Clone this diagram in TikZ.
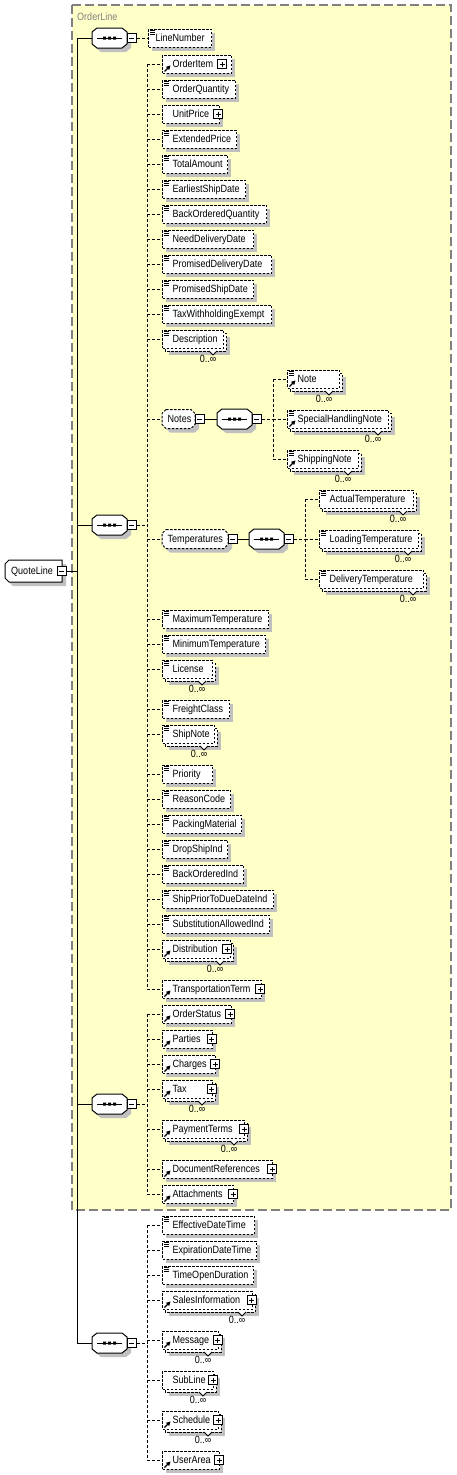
\documentclass[tikz,border=0pt]{standalone}
\usepackage{fontspec}
\setmainfont{Liberation Sans}[FakeStretch=0.86]
\definecolor{grpfill}{HTML}{FFFFC8}
\definecolor{shd}{HTML}{C0C0C0}
\definecolor{grpline}{HTML}{808080}
\newcommand\stt{\rule[-2.6pt]{0pt}{11.8pt}}
\newcommand\toff{10}
\tikzset{
  txt/.style={font=\fontsize{10.5}{11}\selectfont},
  elbox/.style={txt, draw, line width=1pt, dash pattern=on 2.5pt off 1.5pt, fill=white, inner sep=0pt, minimum height=18pt, anchor=west},
  dashbox/.style={draw, line width=1pt, dash pattern=on 2.5pt off 1.5pt, fill=white},
  conn/.style={line width=1pt, dash pattern=on 3pt off 2pt},
  solidln/.style={line width=1pt},
  ghost/.style={txt, inner sep=0pt, anchor=west},
  sq/.style={draw, solid, line width=1pt, fill=white, minimum size=9pt, inner sep=0pt},
}
% simple element
\newcommand\SEl[5]{%
  \fill[shd] (#2+4,#3-5) rectangle (#4+4,#3+13);
  \pgfmathsetmacro\elw{#4-#2}%
  \node[elbox] (#1) at (#2,#3) {\makebox[\elw pt][l]{\hspace*{\toff pt}\stt #5}};
}
% repeated element 0..inf
\newcommand\MEl[5]{%
  \fill[shd] (#2+7,#3-2) rectangle (#4+7,#3+16);
  \draw[dashbox] (#2+3,#3-6) rectangle (#4+3,#3+12);
  \draw[line width=0.8pt, fill=white] (#4-14,#3+12) -- (#4-10,#3+16) -- (#4-6,#3+12);
  \pgfmathsetmacro\elw{#4-#2}%
  \node[elbox] (#1) at (#2,#3) {\makebox[\elw pt][l]{\hspace*{\toff pt}\stt #5}};
  \node[txt, inner sep=0pt] (#1-n) at (#4-15,#3+20) {0..∞};
}
% chamfered element with children
\newcommand\CEl[5]{%
  \fill[shd] (#2+8,#3-5.5) -- (#4,#3-5.5) -- (#4+4,#3-1.5) -- (#4+4,#3+9.5) -- (#4,#3+13.5) -- (#2+8,#3+13.5) -- (#2+4,#3+9.5) -- (#2+4,#3-1.5) -- cycle;
  \draw[dashbox] (#2+4,#3-9.5) -- (#4-4,#3-9.5) -- (#4,#3-5.5) -- (#4,#3+5.5) -- (#4-4,#3+9.5) -- (#2+4,#3+9.5) -- (#2,#3+5.5) -- (#2,#3-5.5) -- cycle;
  \pgfmathsetmacro\elw{#4-#2}%
  \node[ghost, minimum height=19pt] (#1) at (#2,#3) {\makebox[\elw pt][l]{\hspace*{5.5pt}\stt #5}};
}
\newcommand\XIco[2]{\draw[line width=1pt] (#1+2,#2-7.5) -- +(5,0) (#1+2,#2-5.5) -- +(5,0) (#1+2,#2-3.5) -- +(5,0);}
\newcommand\XRef[2]{\draw[line width=1.3pt] (#1+2.5,#2+7.5) -- (#1+6,#2+4); \fill (#1+8.5,#2+1.5) -- (#1+4,#2+2.8) -- (#1+7.2,#2+6) -- cycle;}
\newcommand\XPlus[3]{\node[sq] (#1) at (#2,#3) {}; \draw[line width=1pt] (#2-2.5,#3) -- (#2+2.5,#3) (#2,#3-2.5) -- (#2,#3+2.5);}
\newcommand\XMinus[3]{\node[sq] (#1) at (#2,#3) {}; \draw[line width=1pt] (#2-2.5,#3) -- (#2+2.5,#3);}
\newcommand\XSeq[3]{%
  \fill[shd] (#2+9,#3-6) -- (#2+34,#3-6) -- (#2+39,#3-2) -- (#2+39,#3+10) -- (#2+34,#3+14) -- (#2+9,#3+14) -- (#2+4,#3+10) -- (#2+4,#3-2) -- cycle;
  \draw[solidln, fill=white] (#2+5,#3-10) -- (#2+30,#3-10) -- (#2+35,#3-6) -- (#2+35,#3+6) -- (#2+30,#3+10) -- (#2+5,#3+10) -- (#2,#3+6) -- (#2,#3-6) -- cycle;
  \draw[solidln] (#2+5,#3) -- (#2+30,#3);
  \fill (#2+11,#3-1.5) rectangle +(3,3) (#2+16,#3-1.5) rectangle +(3,3) (#2+21,#3-1.5) rectangle +(3,3);
  \node[inner sep=0pt, minimum width=35pt, minimum height=20pt, anchor=west] (#1) at (#2,#3) {};
  \XMinus{#1-m}{#2+39.5}{#3}
}
\begin{document}
\begin{tikzpicture}[x=1pt,y=-1pt]
\useasboundingbox (0,0) rectangle (456,1475);
% group
\draw[grpline, fill=grpfill, line width=1.2pt, dash pattern=on 9pt off 4pt] (72,5) rectangle (451,1210);
\node[txt, text=grpline, anchor=west, inner sep=0pt] (OrderLineLbl) at (77,17) {OrderLine};
% root
\fill[shd] (13,564) -- (66,564) -- (66,586) -- (13,586) -- (9,582) -- (9,568) -- cycle;
\draw[solidln, fill=white] (9,560) -- (62,560) -- (62,582) -- (9,582) -- (5,578) -- (5,564) -- cycle;
\node[ghost, minimum height=22pt] (QuoteLine) at (5,571) {\makebox[57pt][l]{\hspace*{6pt}\stt QuoteLine}};
\XMinus{QL-m}{61.5}{571}
% sequences
\XSeq{s1}{92}{38}
\XSeq{s2}{92}{525}
\XSeq{s3}{92}{1104}
\XSeq{s4}{92}{1343}
% seq 1
\renewcommand\toff{7}
\SEl{LineNumber}{148}{38}{211}{LineNumber}\XIco{148}{38}
\renewcommand\toff{10}
% seq 2
\SEl{OrderItem}{162}{64}{231}{OrderItem}\XRef{162}{64}\XPlus{OrderItem-p}{222}{64}
\SEl{OrderQuantity}{162}{89}{235}{OrderQuantity}\XIco{162}{89}
\SEl{UnitPrice}{162}{114}{219}{UnitPrice}\XPlus{UnitPrice-p}{218}{114}
\SEl{ExtendedPrice}{162}{139}{236}{ExtendedPrice}\XIco{162}{139}
\SEl{TotalAmount}{162}{164}{227}{TotalAmount}\XIco{162}{164}
\SEl{EarliestShipDate}{162}{189}{245}{EarliestShipDate}\XIco{162}{189}
\SEl{BackOrderedQuantity}{162}{214}{266}{BackOrderedQuantity}\XIco{162}{214}
\SEl{NeedDeliveryDate}{162}{239}{253}{NeedDeliveryDate}\XIco{162}{239}
\SEl{PromisedDeliveryDate}{162}{264}{271}{PromisedDeliveryDate}\XIco{162}{264}
\SEl{PromisedShipDate}{162}{289}{253}{PromisedShipDate}\XIco{162}{289}
\SEl{TaxWithholdingExempt}{162}{314}{271}{TaxWithholdingExempt}\XIco{162}{314}
\MEl{Description}{162}{339}{223}{Description}\XIco{162}{339}
\CEl{Notes}{162}{419}{195}{Notes}\XMinus{Notes-m}{199.5}{419}
\XSeq{sN}{217}{419}
\MEl{Note}{287}{379}{339}{Note}\XIco{287}{379}\XRef{287}{379}
\MEl{SpecialHandlingNote}{287}{419}{388}{SpecialHandlingNote}\XIco{287}{419}\XRef{287}{419}
\MEl{ShippingNote}{287}{459}{358}{ShippingNote}\XIco{287}{459}\XRef{287}{459}
\CEl{Temperatures}{162}{539}{228}{Temperatures}\XMinus{Temperatures-m}{232.5}{539}
\XSeq{sT}{249}{539}
\MEl{ActualTemperature}{319}{499}{413}{ActualTemperature}\XIco{319}{499}
\MEl{LoadingTemperature}{319}{539}{418}{LoadingTemperature}\XIco{319}{539}
\MEl{DeliveryTemperature}{319}{579}{423}{DeliveryTemperature}\XIco{319}{579}
\SEl{MaximumTemperature}{162}{619}{268}{MaximumTemperature}\XIco{162}{619}
\SEl{MinimumTemperature}{162}{644}{265}{MinimumTemperature}\XIco{162}{644}
\MEl{License}{162}{669}{212}{License}\XIco{162}{669}
\SEl{FreightClass}{162}{709}{229}{FreightClass}\XIco{162}{709}
\MEl{ShipNote}{162}{734}{214}{ShipNote}\XIco{162}{734}
\SEl{Priority}{162}{774}{212}{Priority}\XIco{162}{774}
\SEl{ReasonCode}{162}{799}{230}{ReasonCode}\XIco{162}{799}
\SEl{PackingMaterial}{162}{824}{241}{PackingMaterial}\XIco{162}{824}
\SEl{DropShipInd}{162}{849}{227}{DropShipInd}\XIco{162}{849}
\SEl{BackOrderedInd}{162}{874}{243}{BackOrderedInd}\XIco{162}{874}
\SEl{ShipPriorToDueDateInd}{162}{899}{273}{ShipPriorToDueDateInd}\XIco{162}{899}
\SEl{SubstitutionAllowedInd}{162}{924}{269}{SubstitutionAllowedInd}\XIco{162}{924}
\MEl{Distribution}{162}{949}{230}{Distribution}\XRef{162}{949}\XPlus{Distribution-p}{227}{949}
\SEl{TransportationTerm}{162}{989}{261}{TransportationTerm}\XRef{162}{989}\XPlus{TransportationTerm-p}{260}{989}
% seq 3
\SEl{OrderStatus}{162}{1014}{231}{OrderStatus}\XRef{162}{1014}\XPlus{OrderStatus-p}{230}{1014}
\SEl{Parties}{162}{1039}{212}{Parties}\XRef{162}{1039}\XPlus{Parties-p}{211.5}{1039}
\SEl{Charges}{162}{1064}{215}{Charges}\XRef{162}{1064}\XPlus{Charges-p}{215}{1064}
\MEl{Tax}{162}{1089}{212}{Tax}\XRef{162}{1089}\XPlus{Tax-p}{211.5}{1089}
\MEl{PaymentTerms}{162}{1129}{244}{PaymentTerms}\XRef{162}{1129}\XPlus{PaymentTerms-p}{244}{1129}
\SEl{DocumentReferences}{162}{1169}{272}{DocumentReferences}\XRef{162}{1169}\XPlus{DocumentReferences-p}{272}{1169}
\SEl{Attachments}{162}{1194}{233}{Attachments}\XRef{162}{1194}\XPlus{Attachments-p}{233}{1194}
% seq 4
\SEl{EffectiveDateTime}{162}{1225}{254}{EffectiveDateTime}\XIco{162}{1225}
\SEl{ExpirationDateTime}{162}{1250}{256}{ExpirationDateTime}\XIco{162}{1250}
\SEl{TimeOpenDuration}{162}{1275}{253}{TimeOpenDuration}\XIco{162}{1275}
\MEl{SalesInformation}{162}{1300}{252}{SalesInformation}\XRef{162}{1300}\XPlus{SalesInformation-p}{251.5}{1300}
\MEl{Message}{162}{1340}{218}{Message}\XRef{162}{1340}\XPlus{Message-p}{217.5}{1340}
\MEl{SubLine}{162}{1380}{213}{SubLine}\XPlus{SubLine-p}{213}{1380}
\MEl{Schedule}{162}{1420}{218}{Schedule}\XRef{162}{1420}\XPlus{Schedule-p}{218}{1420}
\SEl{UserArea}{162}{1460}{219}{UserArea}\XRef{162}{1460}\XPlus{UserArea-p}{219}{1460}
% connectors
\coordinate (trunk) at (77,571);
\draw[solidln] (QL-m.east) -- (trunk);
\draw[solidln] (s1.west -| trunk) -- (s4.west -| trunk);
\foreach \s in {s1,s2,s3,s4} {\draw[solidln] (\s.west -| trunk) -- (\s.west);}
\draw[conn] (s1-m.east) -- (LineNumber.west);
\coordinate (v2) at (147,525);
\draw[conn] (s2-m.east) -- (v2);
\draw[conn] (OrderItem.west -| v2) -- (TransportationTerm.west -| v2);
\foreach \c in {OrderItem,OrderQuantity,UnitPrice,ExtendedPrice,TotalAmount,EarliestShipDate,BackOrderedQuantity,NeedDeliveryDate,PromisedDeliveryDate,PromisedShipDate,TaxWithholdingExempt,Description,Notes,Temperatures,MaximumTemperature,MinimumTemperature,License,FreightClass,ShipNote,Priority,ReasonCode,PackingMaterial,DropShipInd,BackOrderedInd,ShipPriorToDueDateInd,SubstitutionAllowedInd,Distribution,TransportationTerm} {\draw[conn] (\c.west -| v2) -- (\c.west);}
\draw[solidln] (Notes-m.east) -- (sN.west);
\coordinate (vN) at (273,419);
\draw[conn] (sN-m.east) -- (vN);
\draw[conn] (Note.west -| vN) -- (ShippingNote.west -| vN);
\foreach \c in {Note,SpecialHandlingNote,ShippingNote} {\draw[conn] (\c.west -| vN) -- (\c.west);}
\draw[solidln] (Temperatures-m.east) -- (sT.west);
\coordinate (vT) at (305,539);
\draw[conn] (sT-m.east) -- (vT);
\draw[conn] (ActualTemperature.west -| vT) -- (DeliveryTemperature.west -| vT);
\foreach \c in {ActualTemperature,LoadingTemperature,DeliveryTemperature} {\draw[conn] (\c.west -| vT) -- (\c.west);}
\coordinate (v3) at (147,1104);
\draw[conn] (s3-m.east) -- (v3);
\draw[conn] (OrderStatus.west -| v3) -- (Attachments.west -| v3);
\foreach \c in {OrderStatus,Parties,Charges,Tax,PaymentTerms,DocumentReferences,Attachments} {\draw[conn] (\c.west -| v3) -- (\c.west);}
\coordinate (v4) at (147,1343);
\draw[conn] (s4-m.east) -- (v4);
\draw[conn] (EffectiveDateTime.west -| v4) -- (UserArea.west -| v4);
\foreach \c in {EffectiveDateTime,ExpirationDateTime,TimeOpenDuration,SalesInformation,Message,SubLine,Schedule,UserArea} {\draw[conn] (\c.west -| v4) -- (\c.west);}
\end{tikzpicture}
\end{document}
